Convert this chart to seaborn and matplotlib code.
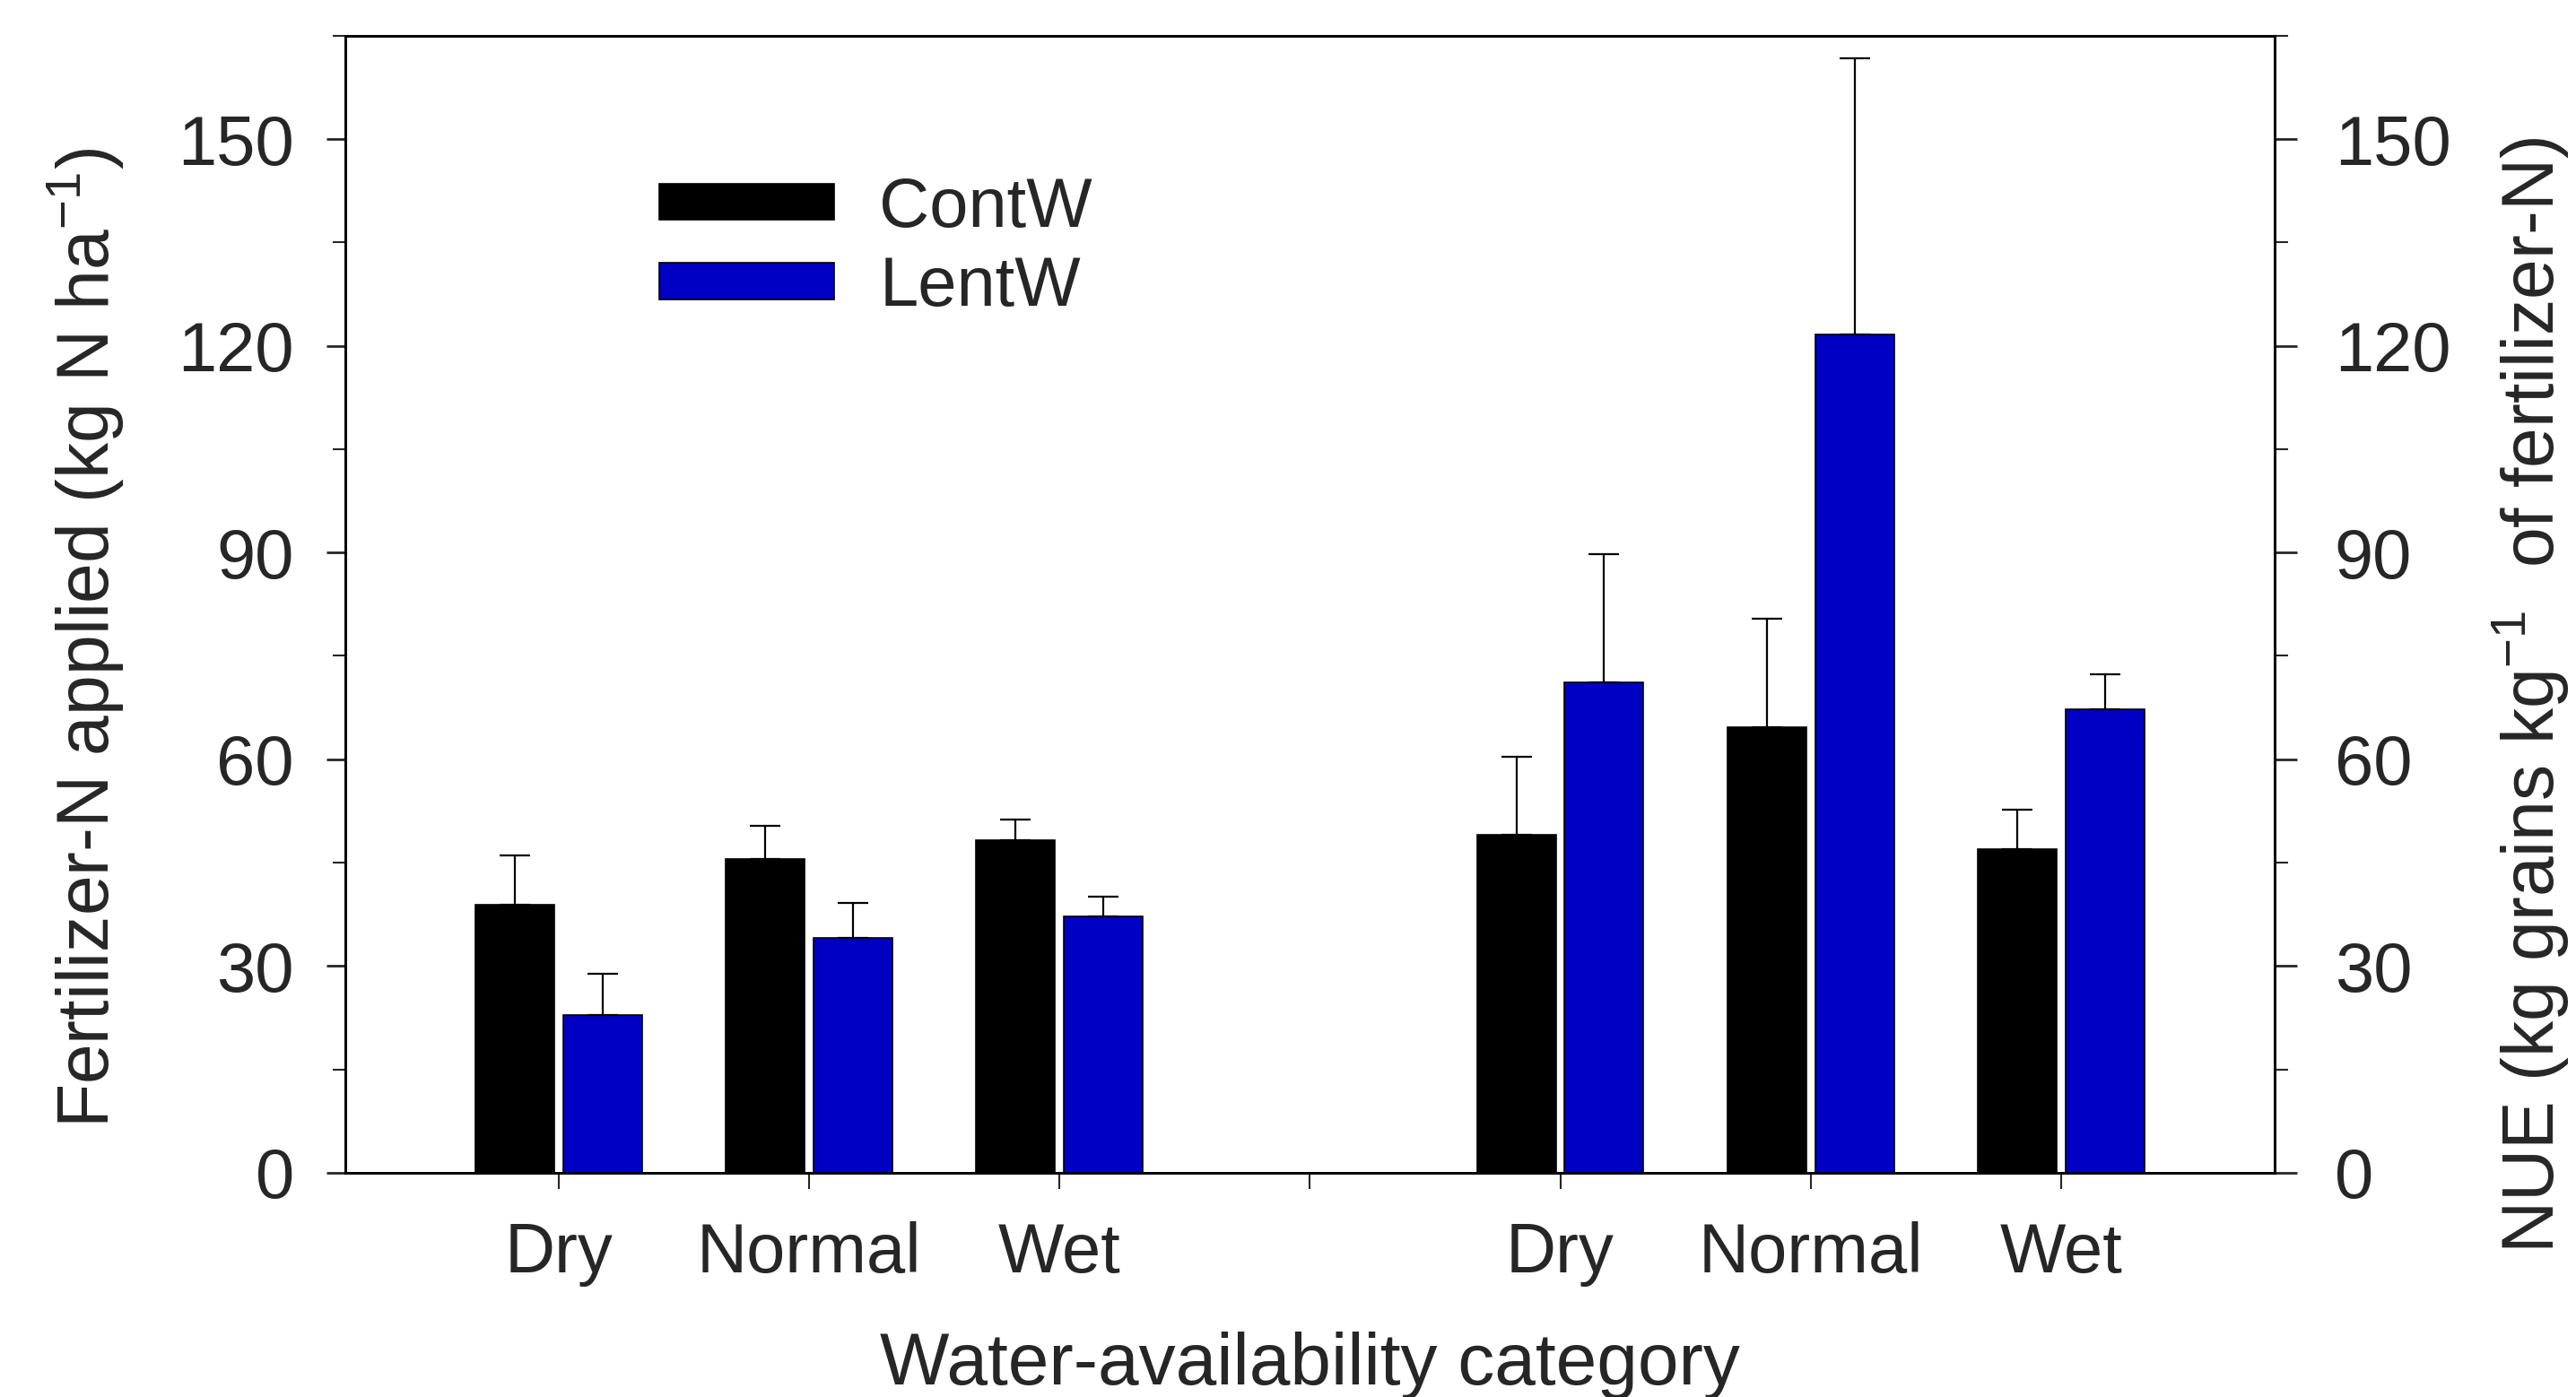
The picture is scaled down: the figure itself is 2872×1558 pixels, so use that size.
import numpy as np
import pandas as pd
import matplotlib
matplotlib.use("Agg")
import matplotlib.pyplot as plt
from matplotlib.patches import Patch
from matplotlib.ticker import MultipleLocator
import seaborn as sns

# water-availability categories and treatments
categories = ["Dry", "Normal", "Wet"]
treatments = ["ContW", "LentW"]

# Fertilizer-N applied (left axis): means and upper error
fert_contw = [38.9, 45.5, 48.2]
fert_contw_err = [7.1, 4.8, 3.1]
fert_lentw = [22.9, 34.1, 37.2]
fert_lentw_err = [6.0, 5.0, 2.9]

# NUE (right axis): means and upper error
nue_contw = [49.1, 64.6, 47.0]
nue_contw_err = [11.2, 15.8, 5.7]
nue_lentw = [71.1, 121.6, 67.3]
nue_lentw_err = [18.6, 40.1, 5.0]

y_ticks = [0, 30, 60, 90, 120, 150]


def panel_frame(cont, lent, cont_err, lent_err, start):
    pos = np.arange(len(categories)) + start
    return pd.DataFrame({
        "pos": np.concatenate([pos, pos]),
        "treatment": np.repeat(treatments, len(categories)),
        "value": list(cont) + list(lent),
        "err": list(cont_err) + list(lent_err),
    })


fert_df = panel_frame(fert_contw, fert_lentw, fert_contw_err, fert_lentw_err, 1)
nue_df = panel_frame(nue_contw, nue_lentw, nue_contw_err, nue_lentw_err, len(categories) + 2)

sns.set_style("ticks")
plt.rcParams["font.family"] = ["Liberation Sans", "DejaVu Sans"]
plt.rcParams["mathtext.default"] = "regular"

palette = {"ContW": "black", "LentW": "#0000C4"}

fig = plt.figure(figsize=(28.72, 15.58), dpi=100)
ax = fig.add_axes([0.134, 0.1605, 0.749, 0.814])
ax2 = ax.twinx()

for axis, df in [(ax, fert_df), (ax2, nue_df)]:
    sns.barplot(
        data=df, x="pos", y="value", hue="treatment", hue_order=treatments,
        palette=palette, saturation=1, native_scale=True, width=0.7, gap=0.1, dodge=True,
        errorbar=None, edgecolor="black", linewidth=1.2, legend=False, ax=axis,
    )
    # upper error bars only, placed on the drawn bars
    for cont, trt in zip(axis.containers, treatments):
        sub = df[df["treatment"] == trt].sort_values("pos")
        bars = sorted(cont, key=lambda b: b.get_x())
        xs = [b.get_x() + b.get_width() / 2 for b in bars]
        hs = [b.get_height() for b in bars]
        axis.errorbar(
            xs, hs, yerr=[np.zeros(len(sub)), sub["err"].to_numpy()],
            fmt="none", ecolor="black", elinewidth=1.6, capsize=12, capthick=1.6, zorder=3,
        )

# x axis: two panels of categories with an unlabeled tick between them
n = len(categories)
tick_pos = list(np.arange(1, 2 * n + 2))
tick_labels = categories + [""] + categories
ax.set_xlim(0.147, 2 * n + 1.853)
ax.set_xticks(tick_pos)
ax.set_xticklabels(tick_labels)
ax.tick_params(axis="x", which="major", direction="out", length=13, width=1.5,
               labelsize=56, pad=26, top=False)
ax.xaxis.set_minor_locator(plt.NullLocator())

for axis in (ax, ax2):
    axis.set_ylim(0, 165)
    axis.set_yticks(y_ticks)
    axis.yaxis.set_minor_locator(MultipleLocator(15))
    for s in axis.spines.values():
        s.set_linewidth(2)
        s.set_color("black")

ax.tick_params(axis="y", which="major", direction="out", length=15, width=2,
               labelsize=56, pad=26, right=False)
ax.tick_params(axis="y", which="minor", direction="out", length=10, width=1.5, right=False)
ax2.tick_params(axis="y", which="major", direction="out", length=18, width=2,
                labelsize=56, pad=30)
ax2.tick_params(axis="y", which="minor", direction="out", length=11, width=1.5)

ax.set_xlabel("Water-availability category", fontsize=59)
ax.xaxis.set_label_coords(0.5, -0.14)
ax.set_ylabel("Fertilizer-N applied (kg N ha$^{-1}$)", fontsize=58)
ax.yaxis.set_label_coords(-0.114, 0.47)
ax2.set_ylabel("NUE (kg grains kg$^{-1}$  of fertilizer-N)", fontsize=58)
ax2.yaxis.set_label_coords(1.111, 0.42)

handles = [Patch(facecolor=palette[t], edgecolor="black", linewidth=1.2, label=t) for t in treatments]
ax2.legend(
    handles=handles, loc="upper left", bbox_to_anchor=(0.163, 0.877), frameon=False,
    fontsize=56, handlelength=2.5, handleheight=0.42, handletextpad=0.65,
    labelspacing=0.2, borderpad=0, borderaxespad=0,
)

fig.savefig("out.png", dpi=100)
